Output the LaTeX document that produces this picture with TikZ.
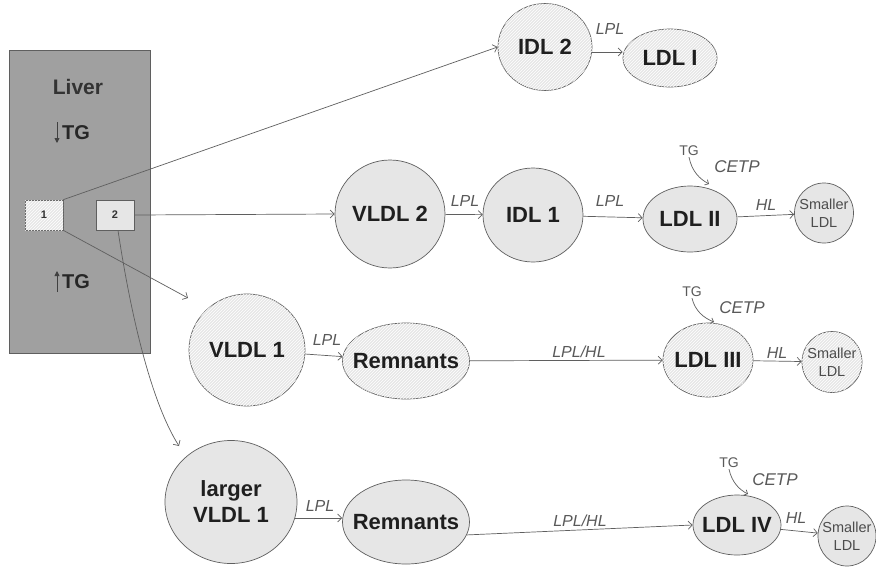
\documentclass[tikz,border=0pt]{standalone}
\usepackage{fontspec}
\setmainfont{Liberation Sans}
\usetikzlibrary{shapes.geometric,arrows.meta,patterns}
\definecolor{liverc}{RGB}{160,160,160}
\definecolor{nodec}{RGB}{230,230,230}
\definecolor{linec}{RGB}{95,95,95}
\begin{document}
\begin{tikzpicture}[x=1pt,y=-1pt,
  ell/.style={ellipse, draw=linec, line width=0.7pt, fill=nodec, inner sep=0pt},
  bigtxt/.style={font=\fontsize{22}{26}\selectfont\bfseries, text=black!88, align=center, inner sep=0pt},
  smalltxt/.style={font=\fontsize{14.5}{18}\selectfont, text=black!70, align=center, inner sep=0pt},
  hatch/.style={postaction={pattern=north east lines, pattern color=white}},
  conn/.style={draw=linec, line width=0.7pt, -{Straight Barb[length=4pt,width=8pt]}},
  tgarr/.style={draw=linec, line width=0.7pt, -{Straight Barb[length=3pt,width=6pt]}},
  lab/.style={font=\fontsize{16}{18}\selectfont\itshape, text=black!65, inner sep=1pt},
  cetp/.style={font=\fontsize{17}{19}\selectfont\itshape, text=black!65, inner sep=1pt},
  tgsmall/.style={font=\fontsize{14}{16}\selectfont, text=black!65, inner sep=1pt},
  tgbig/.style={font=\fontsize{20}{22}\selectfont\bfseries, text=black!85, inner sep=0pt},
  sbox/.style={draw=linec, line width=0.7pt, fill=nodec, minimum width=38pt, minimum height=30pt,
    inner sep=0pt, font=\fontsize{11}{12}\selectfont\bfseries, text=black!80}]

\useasboundingbox (0,0) rectangle (876,574);
\fill[white] (0,0) rectangle (876,574);

% Liver
\node[draw=linec, line width=0.8pt, fill=liverc, minimum width=141pt, minimum height=303pt,
  inner sep=0pt, anchor=north west] (liver) at (9,50) {};
\node[font=\fontsize{21}{24}\selectfont\bfseries, text=black!80] (livert) at (78,87) {Liver};
\node[tgbig, anchor=west] (tgdown) at (62,133) {TG};
\draw[line width=0.9pt, draw=black!75, -{Triangle[length=5pt,width=5pt]}] (57,122) -- (57,143);
\node[tgbig, anchor=west] (tgup) at (62,282) {TG};
\draw[line width=0.9pt, draw=black!75, -{Triangle[length=5pt,width=5pt]}] (57,292) -- (57,271);
\node[sbox, hatch] (b1) at (44,215) {1};
\node[sbox] (b2) at (115,215) {2};

% Row 1
\node[ell, hatch, minimum width=94pt, minimum height=87pt, label={[bigtxt]center:IDL 2}] (idl2) at (545,47) {};
\node[ell, hatch, minimum width=94pt, minimum height=58pt, label={[bigtxt]center:LDL I}] (ldl1) at (670,58) {};
\draw[conn] (idl2.-6) -- (ldl1.west |- idl2.-6);
\node[lab] (lpl1) at (610,29) {LPL};

% Row 2
\node[ell, minimum width=110pt, minimum height=108pt, label={[bigtxt]center:VLDL 2}] (vldl2) at (390,214) {};
\node[ell, minimum width=100pt, minimum height=94pt, label={[bigtxt]center:IDL 1}] (idl1) at (533,215) {};
\node[ell, minimum width=94pt, minimum height=66pt, label={[bigtxt]center:LDL II}] (ldl2) at (690,219) {};
\node[ell, minimum width=59pt, minimum height=60pt, label={[smalltxt]center:Smaller\\LDL}] (sm2) at (824,213) {};
\draw[conn] (vldl2) -- (idl1);
\draw[conn] (idl1) -- (ldl2);
\draw[conn] (ldl2) -- (sm2);
\node[lab] (lpl2) at (465,201) {LPL};
\node[lab] (lpl3) at (610,201) {LPL};
\node[lab] (hl2) at (766,205) {HL};
\node[tgsmall] (tg2) at (689,151) {TG};
\node[cetp] (cetp2) at (737,167) {CETP};
\coordinate (e2) at (709,184);
\draw[tgarr] (tg2.south) .. controls (692,172) and (700,179) .. (e2);

% Row 3
\node[ell, hatch, minimum width=116pt, minimum height=112pt, label={[bigtxt]center:VLDL 1}] (vldl1) at (247,350) {};
\node[ell, hatch, minimum width=127pt, minimum height=76pt, label={[bigtxt]center:Remnants}] (rem3) at (406,361) {};
\node[ell, hatch, minimum width=90pt, minimum height=74pt, label={[bigtxt]center:LDL III}] (ldl3) at (708,360) {};
\node[ell, hatch, minimum width=60pt, minimum height=61pt, label={[smalltxt]center:Smaller\\LDL}] (sm3) at (832,362) {};
\draw[conn] (vldl1) -- (rem3);
\draw[conn] (rem3) -- (ldl3);
\draw[conn] (ldl3) -- (sm3);
\node[lab] (lpl4) at (327,340) {LPL};
\node[lab] (lplhl3) at (579,352) {LPL/HL};
\node[lab] (hl3) at (777,353) {HL};
\node[tgsmall] (tg3) at (692,292) {TG};
\node[cetp] (cetp3) at (742,308) {CETP};
\coordinate (e3) at (714,322);
\draw[tgarr] (tg3.south) .. controls (695,311) and (704,318) .. (e3);

% Row 4
\node[ell, minimum width=132pt, minimum height=123pt, label={[bigtxt]center:larger\\VLDL 1}] (lvldl) at (231,502) {};
\node[ell, minimum width=127pt, minimum height=84pt, label={[bigtxt]center:Remnants}] (rem4) at (406,522) {};
\node[ell, minimum width=88pt, minimum height=60pt, label={[bigtxt]center:LDL IV}] (ldl4) at (737,525) {};
\node[ell, minimum width=58pt, minimum height=60pt, label={[smalltxt]center:Smaller\\LDL}] (sm4) at (847,536) {};
\draw[conn] (lvldl.-14) -- (rem4.west |- lvldl.-14);
\draw[conn] (rem4.-12) -- (ldl4.west);
\draw[conn] (ldl4) -- (sm4);
\node[lab] (lpl5) at (320,506) {LPL};
\node[lab] (lplhl4) at (580,521) {LPL/HL};
\node[lab] (hl4) at (796,518) {HL};
\node[tgsmall] (tg4) at (729,463) {TG};
\node[cetp] (cetp4) at (775,480) {CETP};
\coordinate (e4) at (748,494);
\draw[tgarr] (tg4.south) .. controls (732,483) and (740,490) .. (e4);

% Liver connectors
\coordinate (a1) at (188,298);
\coordinate (a2) at (179,446);
\draw[conn] (b1.north east) -- (idl2.west);
\draw[conn] (b2.east) -- (vldl2.west);
\draw[conn] (b1.south east) -- (a1);
\draw[conn] ([xshift=3pt]b2.south) .. controls (130,310) and (150,400) .. (a2);
\end{tikzpicture}
\end{document}
